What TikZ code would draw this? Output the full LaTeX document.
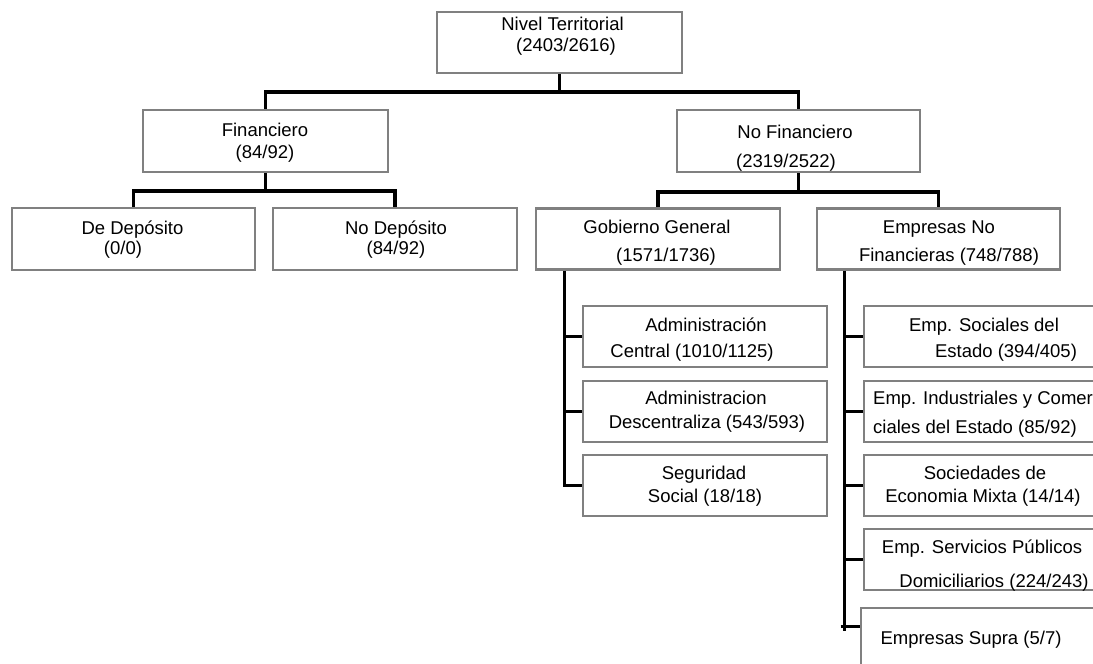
\documentclass[tikz,border=0pt]{standalone}
\usepackage{fontspec}
\setmainfont{Liberation Sans}
\usetikzlibrary{calc}
\definecolor{boxgray}{RGB}{128,128,128}
\begin{document}
\begin{tikzpicture}[x=1pt,y=-1pt,
  box/.style={draw=boxgray, line width=2.6pt, fill=white, inner sep=0pt, minimum width=244pt, minimum height=61pt},
  conn/.style={draw=black, line width=3.4pt},
  txt/.style={inner sep=0pt, text height=13.2pt, text depth=0pt, font=\fontsize{18.5}{22}\selectfont}]
\useasboundingbox (0,0) rectangle (1093,664);
\clip (0,0) rectangle (1093,664);
\fill[white] (0,0) rectangle (1093,664);

% boxes
\node[box, minimum width=245pt] (top)   at (559.5,42.5) {};
\node[box, minimum width=245pt, minimum height=62pt] (fin)   at (265.5,141) {};
\node[box, minimum width=243pt, minimum height=62pt] (nofin) at (798.5,141) {};
\node[box, minimum width=243pt, minimum height=62pt] (dep)   at (133.5,239) {};
\node[box, minimum height=62pt] (nodep) at (395,239) {};
\node[box] (gg)    at (658,239) {};
\node[box, minimum width=243pt] (emp)   at (938.5,239) {};
\node[box] (ac)    at (705,336.5) {};
\node[box] (ad)    at (705,411.5) {};
\node[box] (ss)    at (705,485.5) {};
\node[box] (es)    at (986,336.5) {};
\node[box] (ei)    at (986,411.5) {};
\node[box] (sm)    at (986,485.5) {};
\node[box] (sp)    at (986,559.5) {};
\node[box] (su)    at (983,638.5) {};

% connectors
\draw[conn] (top.south) -- (top.south |- 0,92);
\draw[conn] (fin.north) -- (fin.north |- 0,92) -| (nofin.north);
\draw[conn] (fin.south) -- (fin.south |- 0,191);
\draw[conn] (dep.north) -- (dep.north |- 0,191) -| (nodep.north);
\draw[conn] (nofin.south) -- (nofin.south |- 0,192);
\draw[conn] (gg.north) -- (gg.north |- 0,192) -| (emp.north);

\coordinate (ggt) at ($(gg.south west)+(30,0)$);
\draw[conn] (ggt) |- (ss.west);
\draw[conn] (ggt |- ac.west) -- (ac.west);
\draw[conn] (ggt |- ad.west) -- (ad.west);

\coordinate (empt) at ($(emp.south west)+(29,0)$);
\coordinate (supra) at ($(su.north west)+(0,20)$);
\draw[conn] (empt) -- (empt |- 0,631);
\draw[conn] (empt |- es.west) -- (es.west);
\draw[conn] (empt |- ei.west) -- (ei.west);
\draw[conn] (empt |- sm.west) -- (sm.west);
\draw[conn] (empt |- sp.west) -- (sp.west);
\draw[conn] ($(empt |- supra)+(-4,0)$) -- (supra);

% texts
\node[txt] (t1a) at (562.5,24) {Nivel Territorial};
\node[txt] (t1b) at (566,45) {(2403/2616)};
\node[txt] (t2a) at (265,130) {Financiero};
\node[txt] (t2b) at (265,152) {(84/92)};
\node[txt] (t3a) at (132.5,228) {De Depósito};
\node[txt] (t3b) at (123,248) {(0/0)};
\node[txt] (t4a) at (396,228) {No Depósito};
\node[txt] (t4b) at (396,248) {(84/92)};
\node[txt] (t5a) at (795,132) {No Financiero};
\node[txt] (t5b) at (786,161) {(2319/2522)};
\node[txt] (t6a) at (657,227) {Gobierno General};
\node[txt] (t6b) at (666,255) {(1571/1736)};
\node[txt] (t7a) at (939,227) {Empresas No};
\node[txt] (t7b) at (949,255) {Financieras (748/788)};
\node[txt] (t8a) at (706,325) {Administración};
\node[txt] (t8b) at (692,351) {Central (1010/1125)};
\node[txt] (t9a) at (706,398) {Administracion};
\node[txt] (t9b) at (707,422) {Descentraliza (543/593)};
\node[txt] (t10a) at (704,473) {Seguridad};
\node[txt] (t10b) at (705,496) {Social (18/18)};
\node[txt] (t11a) at (984,325) {Emp. Sociales del};
\node[txt] (t11b) at (1006,351) {Estado (394/405)};
\node[txt, anchor=west] (t12a) at (873,398) {Emp. Industriales y Comer-};
\node[txt] (t12b) at (975,427) {ciales del Estado (85/92)};
\node[txt] (t13a) at (985,473) {Sociedades de};
\node[txt] (t13b) at (983,496) {Economia Mixta (14/14)};
\node[txt] (t14a) at (982,547) {Emp. Servicios Públicos};
\node[txt] (t14b) at (994,581) {Domiciliarios (224/243)};
\node[txt] (t15a) at (971,638) {Empresas Supra (5/7)};
\end{tikzpicture}
\end{document}
